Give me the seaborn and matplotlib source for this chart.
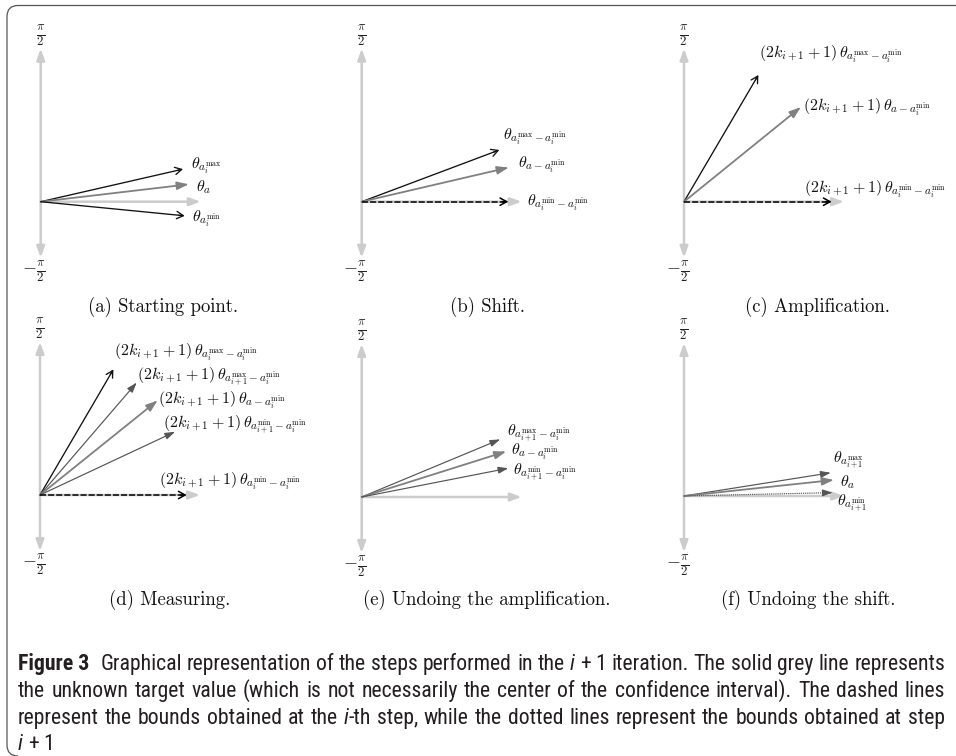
import numpy as np
import matplotlib
matplotlib.use("Agg")
import matplotlib.pyplot as plt
import seaborn as sns
from matplotlib.path import Path
from matplotlib.patches import PathPatch
from matplotlib import font_manager as fm

# ---------------- data ----------------
panel_titles = ["(a) Starting point.", "(b) Shift.", "(c) Amplification.",
                "(d) Measuring.", "(e) Undoing the amplification.", "(f) Undoing the shift."]

# vector angles (degrees) and lengths for every panel
angles_a = [12.9, 6.7, -5.6]
lengths_a = [146.0, 148.6, 144.7]
kinds_a = ["bound", "target", "bound"]
labels_a = [r"$\theta_{a_i^{\mathrm{max}}}$", r"$\theta_a$", r"$\theta_{a_i^{\mathrm{min}}}$"]

angles_b = [20.6, 13.1, 0.0]
lengths_b = [147.0, 150.5, 146.6]
kinds_b = ["bound", "target", "bound_dash"]
labels_b = [r"$\theta_{a_i^{\mathrm{max}}-a_i^{\mathrm{min}}}$", r"$\theta_{a-a_i^{\mathrm{min}}}$",
            r"$\theta_{a_i^{\mathrm{min}}-a_i^{\mathrm{min}}}$"]

angles_c = [59.6, 39.0, 0.0]
lengths_c = [147.0, 150.0, 147.7]
kinds_c = ["bound", "target", "bound_dash"]
labels_c = [r"$(2k_{i+1}+1)\,\theta_{a_i^{\mathrm{max}}-a_i^{\mathrm{min}}}$",
            r"$(2k_{i+1}+1)\,\theta_{a-a_i^{\mathrm{min}}}$",
            r"$(2k_{i+1}+1)\,\theta_{a_i^{\mathrm{min}}-a_i^{\mathrm{min}}}$"]

angles_d = [59.7, 49.3, 38.8, 25.1, 0.0]
lengths_d = [145.5, 148.2, 150.5, 149.1, 146.7]
kinds_d = ["bound", "next", "target", "next", "bound_dash"]
labels_d = [r"$(2k_{i+1}+1)\,\theta_{a_i^{\mathrm{max}}-a_i^{\mathrm{min}}}$",
            r"$(2k_{i+1}+1)\,\theta_{a_{i+1}^{\mathrm{max}}-a_i^{\mathrm{min}}}$",
            r"$(2k_{i+1}+1)\,\theta_{a-a_i^{\mathrm{min}}}$",
            r"$(2k_{i+1}+1)\,\theta_{a_{i+1}^{\mathrm{min}}-a_i^{\mathrm{min}}}$",
            r"$(2k_{i+1}+1)\,\theta_{a_i^{\mathrm{min}}-a_i^{\mathrm{min}}}$"]

angles_e = [22.6, 17.5, 11.1]
lengths_e = [149.9, 151.0, 149.4]
kinds_e = ["next", "target", "next"]
labels_e = [r"$\theta_{a_{i+1}^{\mathrm{max}}-a_i^{\mathrm{min}}}$", r"$\theta_{a-a_i^{\mathrm{min}}}$",
            r"$\theta_{a_{i+1}^{\mathrm{min}}-a_i^{\mathrm{min}}}$"]

angles_f = [9.0, 6.1, 1.3]
lengths_f = [148.5, 150.2, 148.7]
kinds_f = ["next", "target", "next_dot"]
labels_f = [r"$\theta_{a_{i+1}^{\mathrm{max}}}$", r"$\theta_a$", r"$\theta_{a_{i+1}^{\mathrm{min}}}$"]

axis_tick_top = r"$\frac{\pi}{2}$"
axis_tick_bottom = r"$-\frac{\pi}{2}$"

caption_head = "Figure 3"
caption_lines = [
    "Graphical representation of the steps performed in the *i* + 1 iteration. The solid grey line represents",
    "the unknown target value (which is not necessarily the center of the confidence interval). The dashed lines",
    "represent the bounds obtained at the *i*-th step, while the dotted lines represent the bounds obtained at step",
    "*i* + 1",
]

# ---------------- layout (pixels) ----------------
W, H = 956, 756
origins = [(40.7, 201.7), (361.7, 201.7), (684.0, 201.7),
           (40.0, 495.0), (361.7, 497.0), (684.0, 496.0)]
title_pos = [(163, 307), (487, 307), (817, 307), (170, 600), (487, 600), (808, 600)]
label_offsets = [
    [(7.5, 3.5), (8.0, -2.5), (7.5, -2.5)],
    [(3.5, 13.0), (9.5, 3.0), (18.5, -1.5)],
    [(0.5, 21.0), (2.5, 0.5), (-27.5, 12.5)],
    [(0.5, 17.5), (0.5, 6.5), (0.5, 0.0), (-12.0, 7.5), (-27.5, 14.0)],
    [(6.5, 7.0), (5.0, 0.0), (4.5, -3.5)],
    [(2.5, 13.5), (6.5, -2.5), (4.5, -10.0)],
]
AX_UP, AX_DOWN, AX_RIGHT = 153.0, 56.0, 160.0

styles = {
    "bound":      dict(color="#111111", lw=0.95, ls="-",  head="->,head_length=0.4,head_width=0.22"),
    "bound_dash": dict(color="#000000", lw=1.1, ls=(0, (4.0, 1.3)), head="->,head_length=0.4,head_width=0.22"),
    "target":     dict(color="#808080", lw=1.3,  ls="-",  head="-|>,head_length=0.55,head_width=0.2"),
    "next":       dict(color="#555555", lw=0.85, ls="-",  head="-|>,head_length=0.5,head_width=0.17"),
    "next_dot":   dict(color="#555555", lw=0.85, ls=(0, (1, 0.8)), head="-|>,head_length=0.5,head_width=0.17"),
}
AXIS_COLOR = "#cccccc"

# ---------------- drawing ----------------
sns.set_theme(style="white")
plt.rcParams["mathtext.fontset"] = "cm"

fig = plt.figure(figsize=(W / 100, H / 100), dpi=100)
fig.patch.set_facecolor("white")

panels = [
    (angles_a, lengths_a, kinds_a, labels_a),
    (angles_b, lengths_b, kinds_b, labels_b),
    (angles_c, lengths_c, kinds_c, labels_c),
    (angles_d, lengths_d, kinds_d, labels_d),
    (angles_e, lengths_e, kinds_e, labels_e),
    (angles_f, lengths_f, kinds_f, labels_f),
]

XL, XR, YB, YT = -45.0, 275.0, -80.0, 175.0
for p, (angs, lens, kinds, labs) in enumerate(panels):
    ox, oy = origins[p]
    rect = [(ox + XL) / W, (H - (oy - YB)) / H, (XR - XL) / W, (YT - YB) / H]
    ax = fig.add_axes(rect)
    ax.set_xlim(XL, XR)
    ax.set_ylim(YB, YT)
    ax.set_facecolor("none")
    ax.axis("off")

    # coordinate axes (drawn underneath the vectors)
    ax.annotate("", xy=(0, AX_UP), xytext=(0, -AX_DOWN), zorder=1,
                arrowprops=dict(arrowstyle="<|-|>,head_length=0.55,head_width=0.2",
                                color=AXIS_COLOR, lw=1.8, shrinkA=0, shrinkB=0))
    ax.annotate("", xy=(AX_RIGHT, 0), xytext=(0, 0), zorder=1,
                arrowprops=dict(arrowstyle="-|>,head_length=0.55,head_width=0.2",
                                color=AXIS_COLOR, lw=1.8, shrinkA=0, shrinkB=0))
    ax.text(0, AX_UP + 13, axis_tick_top, ha="center", va="center", fontsize=13, color="#222222")
    ax.text(5.0, -AX_DOWN - 14, axis_tick_bottom, ha="right", va="center", fontsize=13, color="#222222")

    # vectors
    for k, (ang, ln, kind, lab) in enumerate(zip(angs, lens, kinds, labs)):
        st = styles[kind]
        t = np.deg2rad(ang)
        tx, ty = ln * np.cos(t), ln * np.sin(t)
        ux, uy = np.cos(t), np.sin(t)
        sns.lineplot(x=[0.0, tx - 2.0 * ux], y=[0.0, ty - 2.0 * uy], sort=False, ax=ax,
                     color=st["color"], lw=st["lw"], linestyle=st["ls"], legend=False, zorder=3)
        ax.annotate("", xy=(tx, ty), xytext=(tx - 6 * ux, ty - 6 * uy), zorder=4,
                    arrowprops=dict(arrowstyle=st["head"], color=st["color"], lw=st["lw"],
                                    shrinkA=0, shrinkB=0))
        dx, dy = label_offsets[p][k]
        ax.text(tx + dx, ty + dy, lab, ha="left", va="center", fontsize=11.5, color="#111111", zorder=5)

    tx_, ty_ = title_pos[p]
    fig.text(tx_ / W, 1 - ty_ / H, panel_titles[p], ha="center", va="center",
             fontsize=13.5, family="cmr10", color="#111111")

# ---------------- frame ----------------
r = 11.0
verts = [(W + 5, 5.5), (7 + r, 5.5), (7, 5.5), (7, 5.5 + r), (7, 756 - r), (7, 756), (7 + r, 756)]
codes = [Path.MOVETO, Path.LINETO, Path.CURVE3, Path.CURVE3, Path.LINETO, Path.CURVE3, Path.CURVE3]
verts_fig = [(x / W, 1 - y / H) for x, y in verts]
fig.patches.append(PathPatch(Path(verts_fig, codes), transform=fig.transFigure,
                             fill=False, edgecolor="#555555", lw=0.9))

# ---------------- caption ----------------
def pick_font():
    for fam in ["Liberation Sans Narrow", "Roboto Condensed", "Open Sans Condensed", "Liberation Sans"]:
        try:
            fm.findfont(fm.FontProperties(family=fam), fallback_to_default=False)
            return fam
        except Exception:
            continue
    return "DejaVu Sans"

cap_font = pick_font()
renderer = fig.canvas.get_renderer()

def measure(s, size, **kw):
    t = fig.text(0, 0, s, family=cap_font, fontsize=size, **kw)
    w = t.get_window_extent(renderer).width
    t.remove()
    return w

def word_pieces(word):
    parts = word.split("*")
    return [(s, "italic" if i % 2 else "normal") for i, s in enumerate(parts) if s]

def word_width(word, size):
    return sum(measure(s, size, style=st) for s, st in word_pieces(word))

X0, X1 = 18.0, 945.0

# caption size chosen so that the first line has natural spacing over the full width
base = 12.0
sp0 = measure("a a", base) - measure("aa", base)
nat = (measure(caption_head, base, weight="bold") + 2.2 * sp0
       + sum(word_width(w, base) for w in caption_lines[0].split(" "))
       + (len(caption_lines[0].split(" ")) - 1) * sp0)
cap_size = base * (X1 - X0) / nat

def draw_word(x, y, word):
    for s, style in word_pieces(word):
        fig.text(x / W, 1 - y / H, s, ha="left", va="baseline", family=cap_font,
                 fontsize=cap_size, style=style, color="#231f20")
        x += measure(s, cap_size, style=style)
    return x

baselines = [670, 697, 724, 750]
fig.text(X0 / W, 1 - baselines[0] / H, caption_head, ha="left", va="baseline",
         family=cap_font, fontsize=cap_size, weight="bold", color="#231f20")
head_w = measure(caption_head, cap_size, weight="bold")
space_w = measure("a a", cap_size) - measure("aa", cap_size)

for li, line in enumerate(caption_lines):
    words = line.split(" ")
    start = X0 + (head_w + 2.2 * space_w if li == 0 else 0)
    widths = [word_width(w, cap_size) for w in words]
    justify = li < len(caption_lines) - 1 and len(words) > 1
    gap = (X1 - start - sum(widths)) / (len(words) - 1) if justify else space_w
    gap = min(gap, 2.2 * space_w)
    x = start
    for w, ww in zip(words, widths):
        draw_word(x, baselines[li], w)
        x += ww + gap

fig.savefig("out.png", dpi=100, facecolor="white")
